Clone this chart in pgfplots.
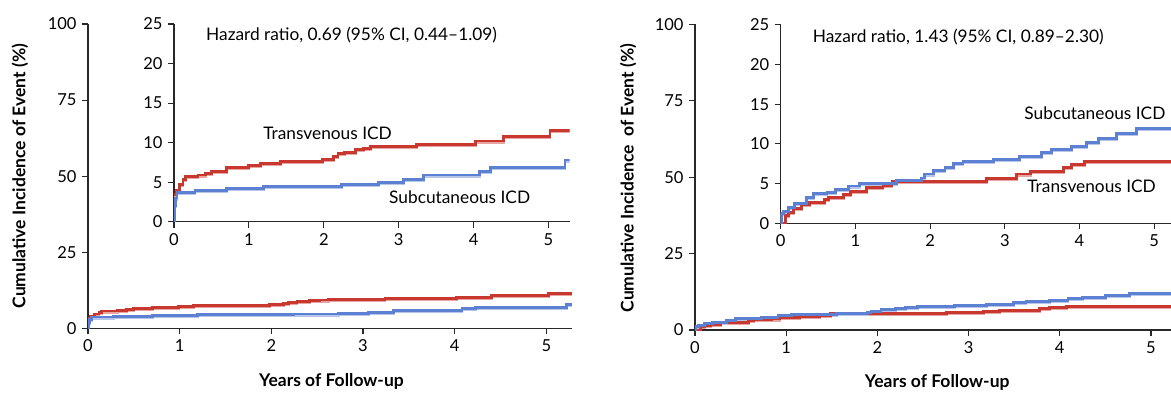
\documentclass[border=0pt]{standalone}
\usepackage{pgfplots}
\pgfplotsset{compat=1.18}
\usepackage{fontspec}
\setmainfont{Lato}
\definecolor{redc}{RGB}{200,56,46}
\definecolor{bluec}{RGB}{92,128,210}
\definecolor{axc}{RGB}{40,40,40}
\tikzset{annot/.style={anchor=west, font=\fontsize{17.3}{19}\selectfont, inner sep=0pt}}
\pgfplotsset{
  kmbase/.style={
    scale only axis,
    anchor=south west,
    axis lines=left,
    axis line style={-, axc, line width=1.3pt},
    tick style={axc, line width=1.1pt},
    tick align=outside,
    major tick length=6pt,
    xmin=0, xmax=5.28,
    xtick={0,1,2,3,4,5},
    ymin=0,
    /pgf/number format/assume math mode=true,
    tick label style={font=\fontsize{16.5}{18}\selectfont, text=black},
    xticklabel style={yshift=-2pt},
    yticklabel style={xshift=-2pt},
    label style={font=\bfseries\fontsize{17.5}{19}\selectfont},
  },
  redline/.style={const plot, draw=redc, line width=2.9pt, line join=miter},
  blueline/.style={const plot, draw=bluec, line width=2.9pt, line join=miter},
  redhalo/.style={const plot, draw=redc!45!white, line width=2.9pt, line join=miter, yshift=-1.1pt},
  bluehalo/.style={const plot, draw=bluec!45!white, line width=2.9pt, line join=miter, yshift=-1.1pt},
}
\pgfplotstableread{
x y
0 3.4
0.03 4.0
0.07 4.7
0.12 5.3
0.15 5.7
0.32 5.9
0.42 6.1
0.50 6.4
0.70 6.9
0.99 7.1
1.15 7.4
1.42 7.6
1.98 7.9
2.13 8.2
2.19 8.6
2.28 8.8
2.42 9.1
2.53 9.3
2.62 9.5
3.24 9.8
4.02 10.2
4.40 10.8
5.02 11.5
5.28 11.5
}\leftred
\pgfplotstableread{
x y
0 0
0.006 2.0
0.015 3.0
0.04 3.7
0.28 4.0
0.70 4.2
1.19 4.5
2.24 4.7
2.73 5.0
3.06 5.3
3.33 5.9
4.08 6.4
4.23 6.9
5.22 7.8
5.28 7.8
}\leftblue
\pgfplotstableread{
x y
0 0
0.06 1.0
0.10 1.4
0.17 1.9
0.28 2.4
0.39 2.6
0.59 3.0
0.64 3.3
0.84 3.6
0.93 4.0
1.15 4.5
1.37 4.8
1.49 5.3
2.76 5.6
3.16 6.2
3.34 6.5
3.78 7.0
3.89 7.4
4.07 7.8
5.28 7.8
}\rightred
\pgfplotstableread{
x y
0 0
0.01 1.2
0.04 1.5
0.10 2.0
0.19 2.5
0.35 3.2
0.44 3.7
0.62 3.9
0.73 4.2
0.91 4.7
1.06 5.0
1.55 5.4
1.89 5.7
1.93 6.2
2.04 6.6
2.20 7.0
2.31 7.5
2.44 7.8
2.85 8.0
3.20 8.4
3.49 8.9
3.63 9.3
3.89 9.7
4.09 10.2
4.25 10.7
4.50 11.3
4.76 11.9
5.28 11.9
}\rightblue
\begin{document}
\begin{tikzpicture}[x=1pt,y=1pt]
% ---------------- Left panel: main axis ----------------
\begin{axis}[kmbase, at={(88pt,63.7pt)}, width=484pt, height=304.3pt,
  ymax=100, ytick={0,25,50,75,100},
  ylabel={Cumulative Incidence of Event (\%)},
  ylabel style={at={(axis description cs:-0.1405,0.5)}, anchor=center},
  xlabel={Years of Follow-up},
  xlabel style={at={(axis description cs:0.503,-0.176)}, anchor=center}]
\addplot[redhalo] table {\leftred};
\addplot[bluehalo] table {\leftblue};
\addplot[redline] table {\leftred};
\addplot[blueline] table {\leftblue};
\end{axis}
% ---------------- Left panel: inset ----------------
\begin{axis}[kmbase, at={(174pt,170.3pt)}, width=395.5pt, height=197.7pt,
  ymax=25, ytick={0,5,10,15,20,25}]
\addplot[redhalo] table {\leftred};
\addplot[bluehalo] table {\leftblue};
\addplot[redline] table {\leftred};
\addplot[blueline] table {\leftblue};
\node[annot] at (axis cs:0.427,23.6) {Hazard ratio, 0.69 (95\% CI, 0.44–1.09)};
\node[annot] at (axis cs:1.19,11.2) {Transvenous ICD};
\node[annot] at (axis cs:2.87,3.16) {Subcutaneous ICD};
\end{axis}
% ---------------- Right panel: main axis ----------------
\begin{axis}[kmbase, at={(695pt,62pt)}, width=481.5pt, height=305.7pt,
  ymax=100, ytick={0,25,50,75,100},
  ylabel={Cumulative Incidence\ \ of Event (\%)},
  ylabel style={at={(axis description cs:-0.139,0.497)}, anchor=center},
  xlabel={Years of Follow-up},
  xlabel style={at={(axis description cs:0.503,-0.173)}, anchor=center}]
\addplot[redhalo] table {\rightred};
\addplot[bluehalo] table {\rightblue};
\addplot[redline] table {\rightred};
\addplot[blueline] table {\rightblue};
\end{axis}
% ---------------- Right panel: inset ----------------
\begin{axis}[kmbase, at={(780.7pt,168.7pt)}, width=394.4pt, height=198.6pt,
  ymax=25, ytick={0,5,10,15,20,25}]
\addplot[redhalo] table {\rightred};
\addplot[bluehalo] table {\rightblue};
\addplot[redline] table {\rightred};
\addplot[blueline] table {\rightblue};
\node[annot] at (axis cs:0.428,23.5) {Hazard ratio, 1.43 (95\% CI, 0.89–2.30)};
\node[annot] at (axis cs:3.26,13.85) {Subcutaneous ICD};
\node[annot] at (axis cs:3.30,4.6) {Transvenous ICD};
\end{axis}
\pgfresetboundingbox
\useasboundingbox (0pt,0pt) rectangle (1171pt,392pt);
\end{tikzpicture}
\end{document}
